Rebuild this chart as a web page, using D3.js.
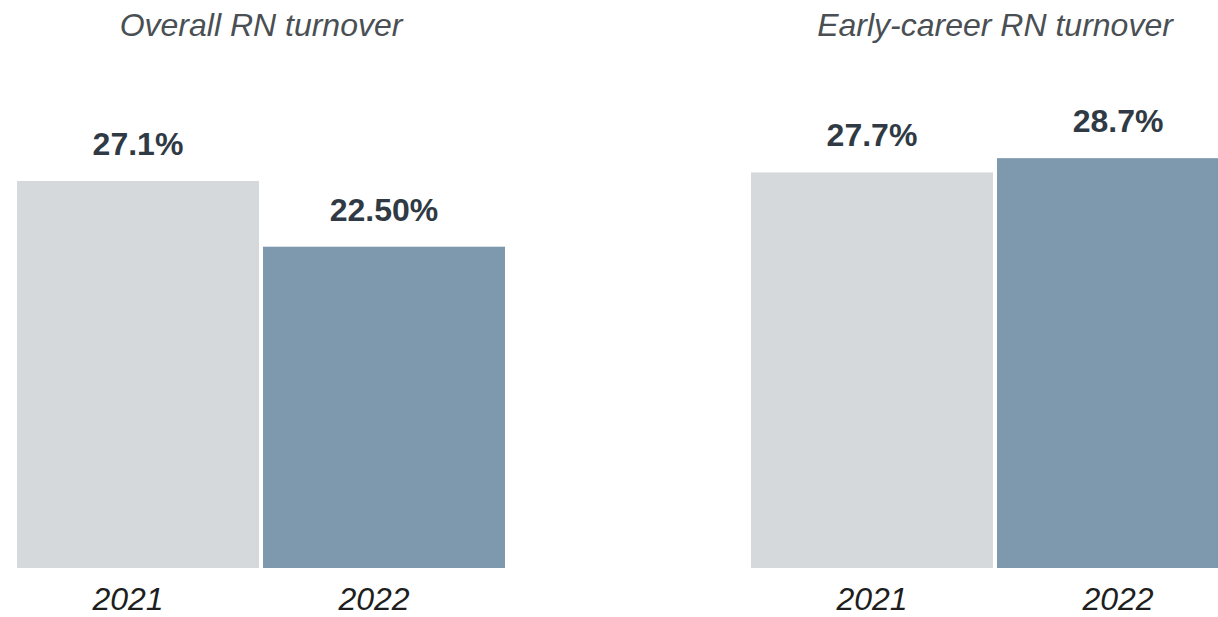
<!DOCTYPE html>
<html>
<head>
<meta charset="utf-8">
<script src="https://cdn.jsdelivr.net/npm/d3@7"></script>
<style>
  html, body { margin: 0; padding: 0; background: #fff; }
  svg { display: block; }
</style>
</head>
<body>
<svg id="chart" width="1218" height="617"></svg>
<script>
// ---- data ----
const years = ["2021", "2022"];
const panelTitles = ["Overall RN turnover", "Early-career RN turnover"];
const overallValues = [27.1, 22.5];
const overallLabels = ["27.1%", "22.50%"];
const earlyValues = [27.7, 28.7];
const earlyLabels = ["27.7%", "28.7%"];
const barColors = ["#d5d9db", "#7e99ae"];

// ---- layout ----
const svg = d3.select("#chart");
const baseY = 568;
const y = d3.scaleLinear().domain([0, 30]).range([baseY, baseY - 14.28 * 30]);

const panels = [
  { title: panelTitles[0], values: overallValues, labels: overallLabels, x0: 17, x1: 505, yearShift: -10 },
  { title: panelTitles[1], values: earlyValues, labels: earlyLabels, x0: 751, x1: 1239, yearShift: 0 }
];

const fontFam = "'Liberation Sans', Arial, Helvetica, sans-serif";

panels.forEach(p => {
  const x = d3.scaleBand().domain(years).range([p.x0, p.x1]).paddingInner(4 / 244).paddingOuter(0);
  const g = svg.append("g");
  const data = years.map((yr, i) => ({ year: yr, value: p.values[i], label: p.labels[i], color: barColors[i] }));

  g.selectAll("rect.bar").data(data).join("rect")
    .attr("class", "bar")
    .attr("x", d => x(d.year))
    .attr("width", x.bandwidth())
    .attr("y", d => y(d.value))
    .attr("height", d => baseY - y(d.value))
    .attr("fill", d => d.color);

  g.selectAll("text.val").data(data).join("text")
    .attr("class", "val")
    .attr("x", d => x(d.year) + x.bandwidth() / 2)
    .attr("y", d => y(d.value) - 26)
    .attr("text-anchor", "middle")
    .attr("font-family", fontFam)
    .attr("font-weight", "bold")
    .attr("font-size", 32)
    .attr("fill", "#2f3a44")
    .text(d => d.label);

  // title
  g.append("text")
    .attr("x", (p.x0 + p.x1) / 2)
    .attr("y", 36)
    .attr("text-anchor", "middle")
    .attr("font-family", fontFam)
    .attr("font-style", "italic")
    .attr("font-size", 32)
    .attr("fill", "#4a4f54")
    .text(p.title);

  // x axis (years)
  const ax = g.append("g")
    .attr("transform", `translate(${p.yearShift},${baseY})`)
    .call(d3.axisBottom(x).tickSize(0).tickPadding(0));
  ax.select(".domain").remove();
  ax.selectAll("text")
    .attr("dy", null)
    .attr("y", 42)
    .attr("font-family", fontFam)
    .attr("font-style", "italic")
    .attr("font-size", 32)
    .attr("fill", "#1e1e1e");
});
</script>
</body>
</html>
